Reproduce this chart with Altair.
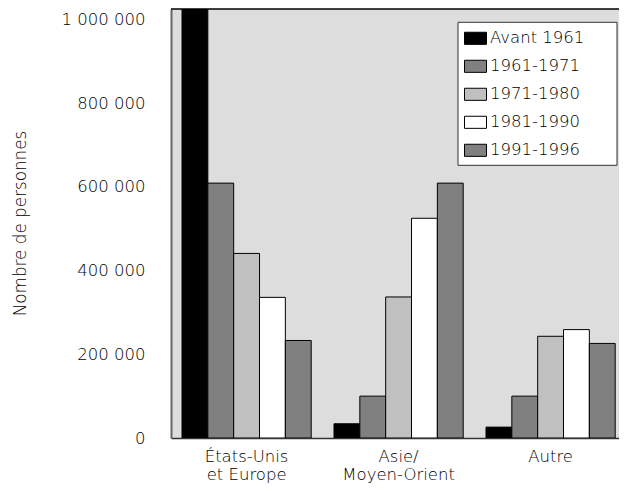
import altair as alt
import pandas as pd

periods = ["Avant 1961", "1961-1971", "1971-1980", "1981-1990", "1991-1996"]
regions = ["États-Unis\net Europe", "Asie/\nMoyen-Orient", "Autre"]
avant_1961 = [1030000, 34000, 26000]   # first bar runs past the top of the plot
p1961_1971 = [609000, 100000, 100000]
p1971_1980 = [441000, 337000, 243000]
p1981_1990 = [336000, 525000, 259000]
p1991_1996 = [233000, 609000, 226000]
y_ticks = [0, 200000, 400000, 600000, 800000, 1000000]
colors = ["#000000", "#808080", "#c0c0c0", "#ffffff", "#808080"]

series = [avant_1961, p1961_1971, p1971_1980, p1981_1990, p1991_1996]
rows = []
for p, vals in zip(periods, series):
    for r, v in zip(regions, vals):
        rows.append({"region": r, "period": p, "value": v})
df = pd.DataFrame(rows)

FONT = "DejaVu Sans"
FS = 16.5
FW = 200
TC = "#000000"
W, H = 448, 429

bars = alt.Chart(df).mark_bar(stroke="black", strokeWidth=1, clip=True).encode(
    x=alt.X("region:N", sort=regions,
            scale=alt.Scale(paddingInner=0.15, paddingOuter=0.0487, align=0.743),
            axis=alt.Axis(title=None, ticks=False, labelAngle=0, labelFontSize=FS,
                          labelFont=FONT, labelFontWeight=FW, labelColor=TC,
                          labelPadding=10, labelBaseline="top",
                          labelLineHeight=18.5, domainColor="#333", domainWidth=1.5,
                          labelExpr="split(datum.label, '\\n')")),
    xOffset=alt.XOffset("period:N", sort=periods,
                        scale=alt.Scale(paddingInner=0, paddingOuter=0)),
    y=alt.Y("value:Q", scale=alt.Scale(domain=[0, 1025000], nice=False),
            axis=alt.Axis(title="Nombre de personnes", values=y_ticks, ticks=False,
                          grid=False, labelFontSize=FS, labelFont=FONT,
                          labelFontWeight=FW, labelColor=TC, labelPadding=26,
                          domainColor="#666", domainWidth=2,
                          labelExpr="replace(format(datum.value, ','), regexp(',', 'g'), ' ')",
                          titleFont=FONT, titleFontSize=16.8, titleFontWeight=FW,
                          titleColor=TC, titleX=-146, titleY=214,
                          titleAlign="center", titleBaseline="alphabetic", titleAngle=270)),
    color=alt.Color("period:N", sort=periods,
                    scale=alt.Scale(domain=periods, range=colors),
                    legend=alt.Legend(title=None, orient="none", legendX=293, legendY=17.8,
                                      padding=0, symbolType="M-1,-0.55H1V0.55H-1Z",
                                      symbolSize=484, symbolStrokeColor="black",
                                      symbolStrokeWidth=1, labelFont=FONT,
                                      labelFontSize=FS, labelFontWeight=FW,
                                      labelColor=TC,
                                      labelOffset=3, rowPadding=8)),
)

one = pd.DataFrame({"k": [0]})
top_line = alt.Chart(one).mark_rule(color="black", strokeWidth=1.5).encode(
    x=alt.value(0), x2=alt.value(W), y=alt.value(0))
legend_box = alt.Chart(one).mark_rect(fill="white", stroke="#333", strokeWidth=1).encode(
    x=alt.value(287), x2=alt.value(446), y=alt.value(13.3), y2=alt.value(156.3))

chart = alt.layer(bars, top_line, legend_box).properties(
    width=W, height=H,
    autosize=alt.AutoSizeParams(type="none"),
    padding={"left": 163, "top": 1, "right": 0, "bottom": 45},
).configure_view(fill="#dddddd", stroke=None)

chart.save("out.html", embed_options={"renderer": "svg", "actions": False})
